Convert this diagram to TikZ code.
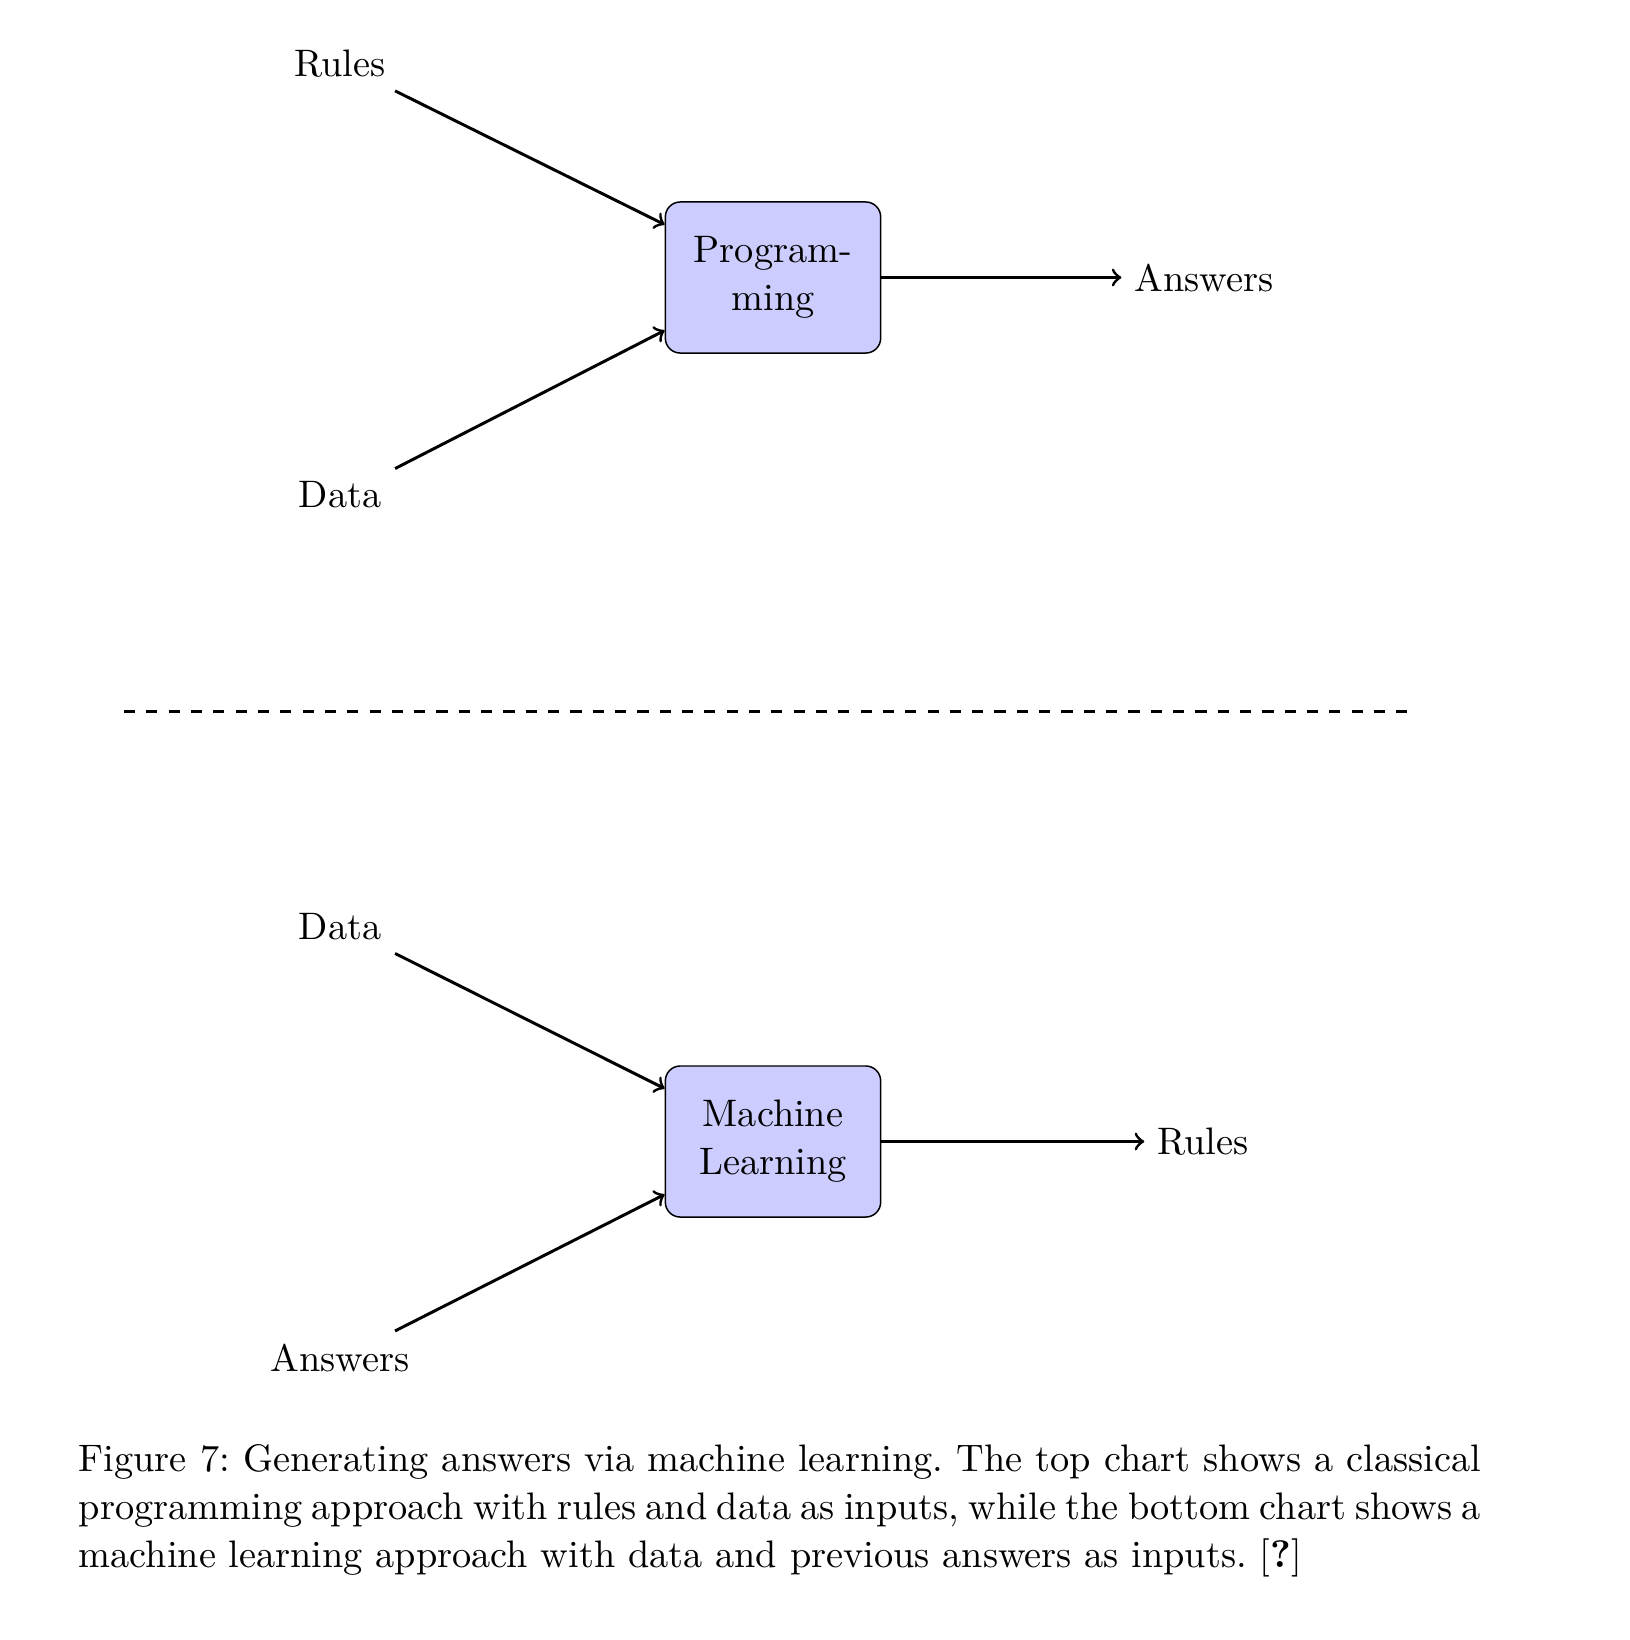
\documentclass[tikz,border=0pt]{standalone}
\usetikzlibrary{arrows}
\tikzset{
  lab/.style={font=\fontsize{10.3}{12.9}\selectfont},
  proc/.style={draw, fill=blue!20, rounded corners=4pt, text width=1.8cm, align=center,
    minimum height=40.6pt, font=\fontsize{10.3}{12.9}\selectfont},
  conn/.style={->, thick},
  sep/.style={dashed, thick},
}
\begin{document}
\begin{tikzpicture}[x=0.268817pt, y=-0.268817pt]
\useasboundingbox (0,0) rectangle (1630,1640);
% top chart
\node[lab] (rules) at (340,64) {Rules};
\node[lab] (data) at (340,495) {Data};
\node[proc] (prog) at (773,277.5) {Program-\\ming};
\node[lab] (ans) at (1204,277.5) {Answers};
\draw[conn] ([xshift=14.8pt]rules.south) -- ([yshift=0.5cm]prog.west);
\draw[conn] ([xshift=14.8pt]data.north) -- ([yshift=-0.5cm]prog.west);
\draw[conn] (prog.east) -- (ans.west);
% separator
\coordinate (sl) at (124,711);
\coordinate (sr) at (1412,711);
\draw[sep] (sl) -- (sr);
% bottom chart
\node[lab] (data2) at (340,927) {Data};
\node[lab] (ans2) at (340,1358) {Answers};
\node[proc] (ml) at (773,1141.5) {Machine\\Learning};
\node[lab] (rules2) at (1203,1141.5) {Rules};
\draw[conn] ([xshift=14.8pt]data2.south) -- ([yshift=0.5cm]ml.west);
\draw[conn] ([xshift=14.8pt]ans2.north) -- ([yshift=-0.5cm]ml.west);
\draw[conn] (ml.east) -- (rules2.west);
% caption
\node[anchor=north west, inner sep=0pt, text width=377pt, align=justify,
  font=\fontsize{10.3}{12.9}\selectfont\frenchspacing] (cap) at (78,1444)
  {Figure 7: Generating answers via machine learning. The top chart shows a classical\linebreak programming approach with rules and data as inputs, while the bottom chart shows a\linebreak machine learning approach with data and previous answers as inputs. [\textbf{?}]};
\end{tikzpicture}
\end{document}
